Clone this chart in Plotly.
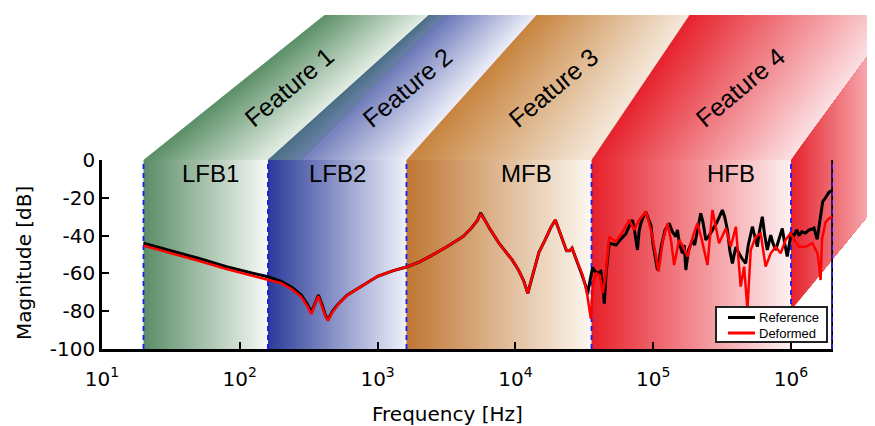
import numpy as np
import plotly.graph_objects as go

# ---------------- data ----------------
ref_freq = [20, 30, 50, 80, 120, 160, 200, 240, 280, 310, 331, 350, 372, 395, 420, 437, 470, 520, 600,
            700, 850, 1000, 1300, 1620, 2000, 2400, 3160, 4170, 4800, 5300, 5600, 6000, 6600, 7600,
            8500, 9500, 10500, 11500, 12300, 13000, 14000, 14800, 16500, 18000, 19500, 20500, 22000,
            23500, 24800, 25800, 26800, 28500, 30500, 32500, 33400, 35000, 36300, 38000, 39500, 41700,
            43000, 44200, 45500, 48000, 53700, 58000, 63400, 67000, 70800, 73500, 76900, 79000, 81300,
            85000, 88500, 92000, 96200, 100000, 107400, 115000, 122000, 130600, 138000, 145900, 150000,
            155000, 162900, 168000, 172600, 180000, 192800, 200000, 210000, 221300, 230000, 241000,
            255000, 269200, 290000, 317700, 330000, 345900, 360000, 375800, 398000, 419800, 440000,
            468800, 490000, 524800, 545000, 570200, 590000, 619400, 645000, 673000, 712900, 740000,
            774500, 810000, 865000, 900000, 939700, 970000, 1000000, 1050000, 1100000, 1143000,
            1200000, 1276000, 1350000, 1429000, 1469000, 1549000, 1641000, 1700000, 1780000, 1888000,
            1995000]
ref_db = [-44, -47.5, -52, -56.5, -59.8, -61.8, -64.2, -67.5, -71.5, -76.5, -80.5, -76, -71.5, -76.5,
          -82.5, -84.5, -80, -76, -71.5, -68.5, -64.5, -61.5, -58.5, -56.6, -54, -51, -46, -40.5, -36,
          -32, -28, -32, -37, -44, -48.5, -53, -58, -64, -70.5, -64, -55, -49, -42, -36, -31.7, -36,
          -43, -48, -48, -46.6, -50, -55, -61, -67, -71, -63, -57, -59, -60, -59, -66, -76, -60, -44,
          -45, -42, -39, -35, -31.7, -38, -47.6, -38, -33.5, -30, -27.3, -31, -34.4, -45, -58.2, -45,
          -37, -33.5, -38, -40.6, -37, -44, -49.4, -45, -58.2, -48, -42.3, -45, -36, -28.2, -33,
          -42.3, -40, -37, -33, -26.5, -30, -37, -48, -54.7, -46, -49.4, -52, -54.7, -45, -35.3, -40,
          -45.9, -38, -30, -40, -47.6, -39.7, -44, -47.6, -43, -36.2, -44, -51.1, -45, -39, -40,
          -37, -40, -38, -38.7, -37, -36.5, -36, -42, -30, -22, -20, -17, -16]

def_freq = [20, 30, 50, 80, 120, 160, 200, 240, 280, 310, 331, 350, 372, 395, 420, 437, 470, 520, 600,
            700, 850, 1000, 1300, 1620, 2000, 2400, 3160, 4170, 4800, 5300, 5600, 6000, 6600, 7600,
            8500, 9500, 10500, 11500, 12300, 13000, 14000, 14800, 16500, 18000, 19500, 20500, 22000,
            23500, 24800, 25800, 26800, 28500, 30800, 33000, 35300, 36500, 38500, 41000, 43000, 45000,
            48000, 53700, 60000, 67000, 72800, 79100, 88500, 93000, 98900, 109400, 118000, 127000,
            135000, 141900, 154200, 165000, 177500, 195000, 209400, 225000, 247700, 269200, 285000,
            300600, 336500, 365600, 398100, 431500, 457100, 483100, 510500, 554600, 602600, 654600,
            712900, 774500, 841400, 914100, 993100, 1050000, 1143000, 1276000, 1429000, 1510000,
            1560000, 1641000, 1679000, 1780000, 1888000, 1995000]
def_db = [-45.3, -48.8, -53.3, -57.7, -61, -63, -65.2, -68.5, -72.5, -77.5, -81.5, -76.5, -72, -77.5,
          -83, -85, -80.5, -76.2, -71.7, -68.6, -64.6, -61.5, -58.5, -56.6, -54, -51, -46, -40.5, -36,
          -32, -28.5, -32, -37, -44, -48.5, -53, -58, -64, -70.5, -64, -55, -49, -42, -36, -31.7, -36,
          -43, -48, -48, -46.6, -50, -55, -61, -70, -84, -66, -60, -61, -70.5, -62, -40.6, -43.2, -38,
          -31.7, -37, -31.7, -27.3, -33, -40.6, -59, -42, -33.5, -43, -55.6, -42.3, -46, -51.1, -40,
          -33.5, -42, -55.6, -26.5, -35, -44, -36.2, -45.9, -35.3, -67, -56.4, -79, -47.6, -40.6,
          -38.8, -56.4, -49.4, -45.9, -49.4, -42.3, -38.8, -42, -45.9, -45.9, -44, -47.6, -49.4,
          -63.5, -42, -33, -30.9, -30]

series_names = ["Reference", "Deformed"]
series_colors = ["black", "#ff0000"]
band_edges = [20, 160, 1620, 35700, 1.0e6, 2.0e6]
band_names = ["LFB1", "LFB2", "MFB", "HFB"]
band_label_freq = [61, 513, 12000, 367000]
feature_names = ["Feature 1", "Feature 2", "Feature 3", "Feature 4"]
y_tickvals = [0, -20, -40, -60, -80, -100]
y_ticktext = ["0", "-20", "-40", "-60", "-80", "-100"]
x_tickvals = [1e1, 1e2, 1e3, 1e4, 1e5, 1e6]
x_ticktext = ["10<sup>1</sup>", "10<sup>2</sup>", "10<sup>3</sup>", "10<sup>4</sup>",
              "10<sup>5</sup>", "10<sup>6</sup>"]

# ---------------- styling / geometry ----------------
# page has an 8px body margin, so the figure is 8px smaller than the window
W, H = 867, 418
ML, MR, MT, MB = 94, 42, 152, 77
PW, PH = W - ML - MR, H - MT - MB
XMIN, XMAX = 1.0, 6.305

def px(f):
    return (np.log10(f) - XMIN) / (XMAX - XMIN)

def dxp(p):
    return p / PW

def dyp(p):
    return p / PH

def hex2rgb(h):
    h = h.lstrip('#')
    return [int(h[i:i + 2], 16) for i in (0, 2, 4)]

def mix(c1, c2, t):
    a, b = hex2rgb(c1), hex2rgb(c2)
    r = [round(a[i] + (b[i] - a[i]) * t) for i in range(3)]
    return f"rgb({r[0]},{r[1]},{r[2]})"

shapes = []

def quad_gradient(bl, br, tl, tr, yb, yt, c1, c2, n=40):
    # stacked slices: each slice spans from its start to the far edge, so no seams appear
    for i in range(n):
        t0 = i / n
        xb0 = bl + t0 * (br - bl)
        xt0 = tl + t0 * (tr - tl)
        path = f"M {xb0},{yb} L {br},{yb} L {tr},{yt} L {xt0},{yt} Z"
        shapes.append(dict(type="path", path=path, xref="paper", yref="paper",
                           fillcolor=mix(c1, c2, (i + 0.5) / n), line=dict(width=0),
                           layer="below"))

# front faces
front_colors = [("#5a8d66", "#f6f9f6"), ("#2a3b98", "#eff1f9"),
                ("#bf7632", "#fcf7f1"), ("#e6202a", "#fdf1f2")]
for i in range(4):
    x0, x1 = px(band_edges[i]), px(band_edges[i + 1])
    quad_gradient(x0, x1, x0, x1, 0, 1, front_colors[i][0], front_colors[i][1], n=50)

# banners (bottom edges at band edges, tops shifted to the right)
TOP = 1 + dyp(145)
shifts = [181, 161, 130, 98, 107]
banner_colors = [("#5a8f66", "#e3ede4"), ("#4f5eaa", "#eceef8"),
                 ("#c8843e", "#f4e8da"), ("#e6222c", "#fbe0e3")]
for i in range(4):
    bl, br = px(band_edges[i]), px(band_edges[i + 1])
    tl, tr = bl + dxp(shifts[i]), br + dxp(shifts[i + 1])
    quad_gradient(bl, br, tl, tr, 1, TOP, banner_colors[i][0], banner_colors[i][1], n=45)

# darker overlap strip between banner 1 and banner 2
b = px(band_edges[1])
quad_gradient(b, b + dxp(33), b + dxp(161), b + dxp(176), 1, TOP, "#4a6f84", "#6a80a6", n=12)

# last slanted red band
x5 = px(band_edges[4])
n5 = 45
span = 112
ybase = 1 - dyp(150)
for i in range(n5):
    p0 = span * i / n5
    yt0, yt1 = 1 + dyp(1.355 * p0), 1 + dyp(1.355 * span)
    yb0, yb1 = ybase + dyp(1.226 * p0), ybase + dyp(1.226 * span)
    xa, xb = x5 + dxp(p0), x5 + dxp(span)
    path = f"M {xa},{yb0} L {xb},{yb1} L {xb},{yt1} L {xa},{yt0} Z"
    shapes.append(dict(type="path", path=path, xref="paper", yref="paper",
                       fillcolor=mix("#e6222c", "#fde6e9", (i + 0.5) / n5),
                       line=dict(width=0), layer="below"))

# legend box (drawn to match the compact boxed legend of the original)
LX0, LX1 = dxp(716 - 102), dxp(827 - 102)
LY0, LY1 = dyp(349 - 342), dyp(349 - 307)
shapes.append(dict(type="rect", xref="paper", yref="paper", x0=LX0, x1=LX1, y0=LY0, y1=LY1,
                   fillcolor="white", line=dict(color="#222222", width=2), layer="above"))
legend_rows = [dyp(349 - 317.5), dyp(349 - 333)]
annotations = []
for name, col, yy in zip(series_names, series_colors, legend_rows):
    shapes.append(dict(type="line", xref="paper", yref="paper", x0=LX0 + dxp(12),
                       x1=LX0 + dxp(39), y0=yy, y1=yy, line=dict(color=col, width=3),
                       layer="above"))
    annotations.append(dict(text=name, x=LX0 + dxp(41), y=yy, xref="paper", yref="paper",
                            showarrow=False, xanchor="left", yanchor="middle",
                            font=dict(family="Liberation Sans, Arial", size=13, color="black")))

fig = go.Figure()

# band boundary dashed lines
for f in band_edges:
    if f == band_edges[-1]:
        fig.add_trace(go.Scatter(x=[f, f], y=[-100, 0], mode="lines",
                                 line=dict(color="black", width=2.5), showlegend=False,
                                 hoverinfo="skip"))
    fig.add_trace(go.Scatter(x=[f, f], y=[-100, 0], mode="lines",
                             line=dict(color="#1a1aff", width=1.8, dash="5px,4px"),
                             showlegend=False, hoverinfo="skip"))

fig.add_trace(go.Scatter(x=ref_freq, y=ref_db, mode="lines", name=series_names[0],
                         line=dict(color=series_colors[0], width=3), showlegend=False))
fig.add_trace(go.Scatter(x=def_freq, y=def_db, mode="lines", name=series_names[1],
                         line=dict(color=series_colors[1], width=2.5), showlegend=False))

for name, f in zip(band_names, band_label_freq):
    annotations.append(dict(text=name, x=px(f), y=1 - dyp(13), xref="paper", yref="paper",
                            showarrow=False, xanchor="center", yanchor="middle",
                            font=dict(family="Liberation Sans, Arial", size=24, color="black")))
for i, name in enumerate(feature_names):
    bl, br = px(band_edges[i]), px(band_edges[i + 1])
    tl, tr = bl + dxp(shifts[i]), br + dxp(shifts[i + 1])
    cx = (bl + br + tl + tr) / 4
    annotations.append(dict(text=name, x=cx - dxp(2), y=(1 + TOP) / 2, xref="paper",
                            yref="paper", showarrow=False, xanchor="center", yanchor="middle",
                            textangle=-40,
                            font=dict(family="Liberation Sans, Arial", size=25, color="black")))
annotations.append(dict(text="Frequency [Hz]", x=dxp(447 - 102), y=-dyp(65), xref="paper",
                        yref="paper", showarrow=False, xanchor="center", yanchor="middle",
                        font=dict(family="DejaVu Sans", size=20, color="black")))
annotations.append(dict(text="Magnitude [dB]", x=-dxp(78), y=dyp(86), xref="paper",
                        yref="paper", showarrow=False, xanchor="center", yanchor="middle",
                        textangle=-90,
                        font=dict(family="DejaVu Sans", size=20, color="black")))

fig.update_layout(
    width=W, height=H,
    margin=dict(l=ML, r=MR, t=MT, b=MB, pad=0),
    paper_bgcolor="white", plot_bgcolor="white",
    shapes=shapes, annotations=annotations,
    showlegend=False,
    xaxis=dict(type="log", range=[XMIN, XMAX], showgrid=False, zeroline=False,
               showline=True, linecolor="black", linewidth=2.5,
               ticks="inside", ticklen=7, tickwidth=2, tickcolor="black",
               tickvals=x_tickvals, ticktext=x_ticktext, ticklabelstandoff=10,
               tickfont=dict(family="DejaVu Sans", size=20, color="black")),
    yaxis=dict(range=[-100, 0], showgrid=False, zeroline=False,
               showline=True, linecolor="black", linewidth=2.5,
               ticks="inside", ticklen=7, tickwidth=2, tickcolor="black",
               tickvals=y_tickvals, ticktext=y_ticktext,
               tickfont=dict(family="DejaVu Sans", size=20, color="black")),
)

fig.write_html("out.html")
